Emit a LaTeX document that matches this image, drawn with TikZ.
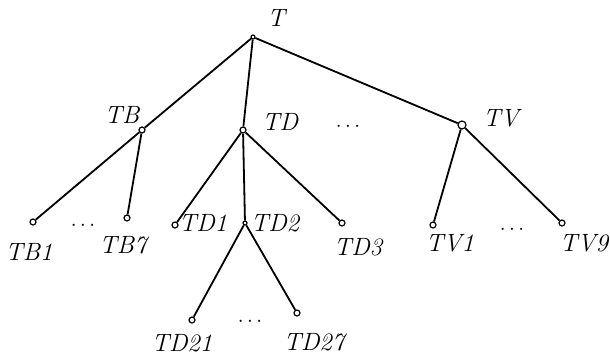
\documentclass[tikz,border=0pt]{standalone}
\begin{document}
\begin{tikzpicture}[x=1pt,y=-1pt,
    vert/.style={circle, draw, fill=white, inner sep=0pt, minimum size=6pt, line width=1.2pt},
    lbl/.style={font=\fontsize{25}{27}\selectfont\itshape, inner sep=0pt},
    gap/.style={font=\fontsize{22}{24}\selectfont\bfseries, inner sep=0pt},
    edge/.style={line width=1.8pt}]
        \useasboundingbox (0,0) rectangle (610,359);

        % vertices
        \node[vert, minimum size=4pt] (t) at (253,37) {};
        \node[vert] (tb) at (142,130) {};
        \node[vert] (td) at (243,130) {};
        \node[vert, minimum size=8pt] (tv) at (462,125) {};
        \node[vert] (tb1) at (33,222) {};
        \node[vert] (tb7) at (127,218) {};
        \node[vert] (td1) at (175,225) {};
        \node[vert, minimum size=4pt] (td2) at (245,223) {};
        \node[vert] (td3) at (342,223) {};
        \node[vert] (tv1) at (433,225) {};
        \node[vert] (tv9) at (562,223) {};
        \node[vert] (td21) at (192,320) {};
        \node[vert] (td27) at (297,313) {};

        % edges
        \draw[edge] (t) -- (tb);
        \draw[edge] (t) -- (td);
        \draw[edge] (t) -- (tv);
        \draw[edge] (tb) -- (tb1);
        \draw[edge] (tb) -- (tb7);
        \draw[edge] (td) -- (td1);
        \draw[edge] (td) -- (td2);
        \draw[edge] (td) -- (td3);
        \draw[edge] (tv) -- (tv1);
        \draw[edge] (tv) -- (tv9);
        \draw[edge] (td2) -- (td21);
        \draw[edge] (td2) -- (td27);

        % labels
        \node[lbl] (lt) at (276,18) {T};
        \node[lbl] (ltb) at (122,115) {TB};
        \node[lbl] (ltd) at (280,122) {TD};
        \node[lbl] (ltv) at (501,118) {TV};
        \node[lbl] (ltb1) at (29,252) {TB1};
        \node[lbl] (ltb7) at (123,245) {TB7};
        \node[lbl] (ltd1) at (203,223) {TD1};
        \node[lbl] (ltd2) at (275,223) {TD2};
        \node[lbl] (ltd3) at (358,247) {TD3};
        \node[lbl] (ltv1) at (450,243) {TV1};
        \node[lbl] (ltv9) at (584,243) {TV9};
        \node[lbl] (ltd21) at (182,343) {TD21};
        \node[lbl] (ltd27) at (314,342) {TD27};

        % omitted siblings
        \node[gap] (g1) at (348,127) {$\cdots$};
        \node[gap] (g2) at (83,226) {$\cdots$};
        \node[gap] (g3) at (512,230) {$\cdots$};
        \node[gap] (g4) at (250,322) {$\cdots$};
\end{tikzpicture}
\end{document}
